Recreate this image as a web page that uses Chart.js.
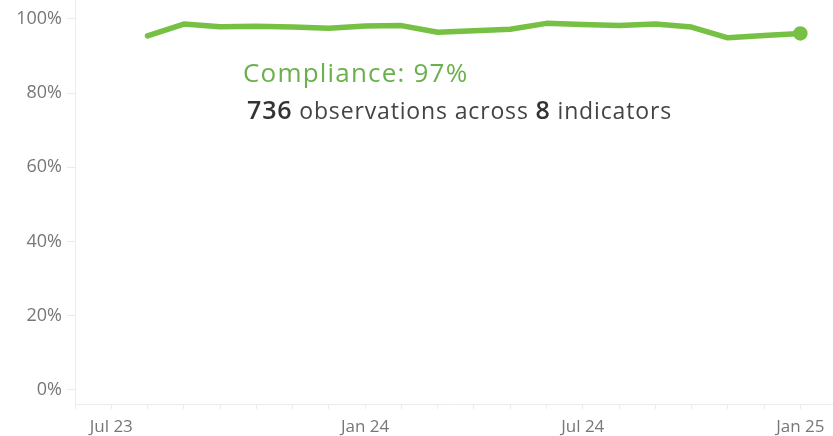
<!DOCTYPE html>
<html>
<head>
<meta charset="utf-8">
<script src="https://cdn.jsdelivr.net/npm/chart.js@4/dist/chart.umd.min.js"></script>
<style>
  body { margin: 0; background: #fff; }
  #wrap { position: relative; width: 833px; height: 436px; }
  #title { position: absolute; left: 243px; top: 59px; font: 26px/26px "Open Sans", sans-serif; letter-spacing: 1.2px; color: #6ab04c; white-space: nowrap; }
  #sub { position: absolute; left: 247px; top: 98px; font: 23px/23px "Open Sans", sans-serif; letter-spacing: 0.85px; color: #444; white-space: nowrap; }
  #sub b { font-weight: 600; font-size: 25px; color: #333; }
</style>
</head>
<body>
<div id="wrap">
  <canvas id="chart" width="833" height="436"></canvas>
  <div id="title">Compliance: 97%</div>
  <div id="sub"><b>736</b> observations across <b>8</b> indicators</div>
</div>
<script>
// Monthly compliance, Jul 23 to Jan 25
var months = ["2023-07","2023-08","2023-09","2023-10","2023-11","2023-12",
              "2024-01","2024-02","2024-03","2024-04","2024-05","2024-06",
              "2024-07","2024-08","2024-09","2024-10","2024-11","2024-12","2025-01"];
var compliance = [95.4, 98.6, 97.9, 98.0, 97.8, 97.5,
                  98.1, 98.2, 96.4, 96.8, 97.2, 98.8,
                  98.5, 98.2, 98.6, 97.8, 94.9, 95.5, 96.1];

// Axis labels (month index relative to Jul 23 -> text)
var xTickLabels = { "-1": "Jul 23", "6": "Jan 24", "12": "Jul 24", "18": "Jan 25" };
var yTicks = [0, 20, 40, 60, 80, 100];

var points = [];
for (var i = 0; i < months.length; i++) {
    points.push({ x: i, y: compliance[i] });
}

var axisColor = "#ececec";
var labelColor = "#777";

// Drop the extra room Chart.js keeps for half-labels at the axis ends
function noEdgePadding(scale) {
    scale.paddingLeft = scale.paddingRight = scale.paddingTop = scale.paddingBottom = 0;
}

var ctx = document.getElementById("chart");
new Chart(ctx, {
    type: "line",
    data: {
        datasets: [{
            data: points,
            borderColor: "#76c043",
            backgroundColor: "#76c043",
            borderWidth: 5.5,
            tension: 0,
            borderJoinStyle: "round",
            borderCapStyle: "round",
            pointRadius: function (c) { return c.dataIndex == months.length - 1 ? 4.5 : 0; },
            pointHoverRadius: 0,
            clip: false
        }]
    },
    options: {
        responsive: false,
        animation: false,
        layout: { padding: 0, autoPadding: false },
        plugins: { legend: { display: false }, tooltip: { enabled: false } },
        scales: {
            x: {
                type: "linear",
                min: -2,
                max: 18.9,
                afterBuildTicks: function (scale) {
                    var t = [];
                    for (var m = -2; m <= 18; m++) t.push({ value: m });
                    scale.ticks = t;
                },
                afterFit: function (scale) {
                    scale.height = 32;
                    noEdgePadding(scale);
                },
                grid: { drawOnChartArea: false, color: axisColor, tickLength: 5 },
                border: { color: axisColor },
                ticks: {
                    autoSkip: false,
                    maxRotation: 0,
                    padding: 8,
                    color: labelColor,
                    font: { family: "Open Sans", size: 17 },
                    callback: function (v) { return xTickLabels[String(v)] || ""; }
                }
            },
            y: {
                min: -3.8,
                max: 105.1,
                afterBuildTicks: function (scale) {
                    scale.ticks = yTicks.map(function (v) { return { value: v }; });
                },
                afterFit: function (scale) {
                    scale.width = 75;
                    noEdgePadding(scale);
                },
                grid: { drawOnChartArea: false, color: axisColor, tickLength: 8 },
                border: { color: axisColor },
                ticks: {
                    padding: 5,
                    color: labelColor,
                    font: { family: "Open Sans", size: 18 },
                    callback: function (v) { return v + "%"; }
                }
            }
        }
    }
});
</script>
</body>
</html>
